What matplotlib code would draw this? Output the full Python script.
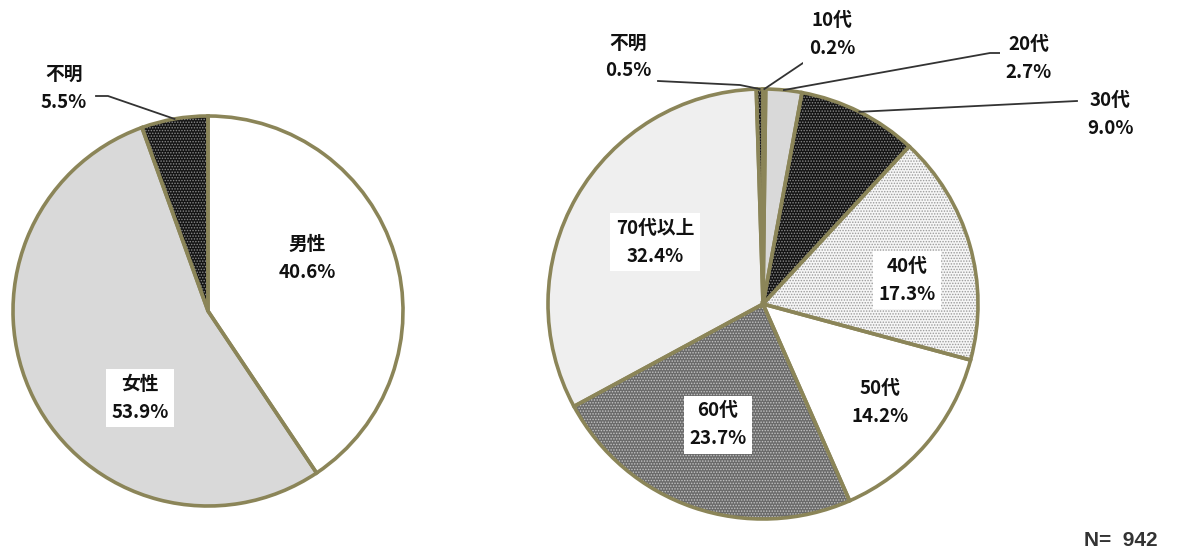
import matplotlib
matplotlib.use("Agg")
import matplotlib.pyplot as plt
import numpy as np

plt.rcParams["font.family"] = ["Noto Sans CJK JP", "DejaVu Sans"]
plt.rcParams["hatch.linewidth"] = 0.7

W, H = 1192, 556

# 性別
sex_labels = ["男性", "女性", "不明"]
sex_values = [40.6, 53.9, 5.5]

# 年代別
age_labels = ["10代", "20代", "30代", "40代", "50代", "60代", "70代以上", "不明"]
age_values = [0.2, 2.7, 9.0, 17.3, 14.2, 23.7, 32.4, 0.5]
n_total = 942

EDGE = "#8b8558"
# (face, hatch, hatch colour)
STYLE = {
    "white": ("#ffffff", None, None),
    "light": ("#d9d9d9", None, None),
    "pale": ("#efefef", None, None),
    "dark": ("#141414", "......", "#8a8a8a"),
    "dots": ("#f6f6f6", "......", "#9a9a9a"),
    "mid": ("#6a6a6a", "......", "#c4c4c4"),
    "grey": ("#5a5a5a", None, None),
}
sex_style = ["white", "light", "dark"]
age_style = ["grey", "light", "dark", "dots", "white", "mid", "pale", "dark"]


def px(x, y):
    return x, H - y


def draw_pie(ax, values, styles, center, radius):
    fill, _ = ax.pie(values, startangle=90, counterclock=False, center=center,
                     radius=radius, wedgeprops=dict(linewidth=0))
    for w, s in zip(fill, styles):
        face, hatch, hcol = STYLE[s]
        w.set_facecolor(face)
        if hatch:
            w.set_hatch(hatch)
            w.set_edgecolor(hcol)
    ax.pie(values, startangle=90, counterclock=False, center=center, radius=radius,
           wedgeprops=dict(facecolor="none", edgecolor=EDGE, linewidth=2.6))


def edge_point(values, i, center, radius):
    frac = (sum(values[:i]) + values[i] / 2) / sum(values)
    ang = np.deg2rad(90 - 360 * frac)
    return center[0] + radius * np.cos(ang), center[1] + radius * np.sin(ang)


def label(ax, xy, name, val):
    ax.text(*px(*xy), f"{name}\n{val:.1f}%", ha="center", va="center",
            fontsize=13.5, fontweight="bold", linespacing=1.6, color="#111111",
            bbox=dict(facecolor="white", edgecolor="none", pad=4), zorder=5)


def leader(ax, pts, end):
    xs = [px(*p)[0] for p in pts] + [end[0]]
    ys = [px(*p)[1] for p in pts] + [end[1]]
    ax.plot(xs, ys, color="#333333", linewidth=1.3, zorder=4)


fig = plt.figure(figsize=(W / 100, H / 100), dpi=100)
ax = fig.add_axes([0, 0, 1, 1])

c_sex, r_sex = px(208, 311), 195
c_age, r_age = px(763, 304), 215
draw_pie(ax, sex_values, sex_style, c_sex, r_sex)
draw_pie(ax, age_values, age_style, c_age, r_age)

# 性別ラベル
label(ax, (307, 258), sex_labels[0], sex_values[0])
label(ax, (140, 398), sex_labels[1], sex_values[1])
label(ax, (64, 88), sex_labels[2], sex_values[2])
leader(ax, [(96, 96), (108, 96)], edge_point(sex_values, 2, c_sex, r_sex))

# 年代ラベル
label(ax, (832, 35), age_labels[0], age_values[0])
leader(ax, [(815, 63), (803, 63)], edge_point(age_values, 0, c_age, r_age))
label(ax, (1029, 58), age_labels[1], age_values[1])
leader(ax, [(1000, 53), (990, 53)], edge_point(age_values, 1, c_age, r_age))
label(ax, (1110, 115), age_labels[2], age_values[2])
leader(ax, [(1077, 101)], edge_point(age_values, 2, c_age, r_age))
label(ax, (907, 280), age_labels[3], age_values[3])
label(ax, (880, 403), age_labels[4], age_values[4])
label(ax, (718, 425), age_labels[5], age_values[5])
label(ax, (655, 242), age_labels[6], age_values[6])
label(ax, (628, 57), age_labels[7], age_values[7])
leader(ax, [(658, 81), (740, 85)], edge_point(age_values, 7, c_age, r_age))

ax.text(*px(1121, 540), f"N=  {n_total}", ha="center", va="center",
        fontsize=15, fontweight="bold", color="#333333", family="Liberation Sans")

ax.set_xlim(0, W)
ax.set_ylim(0, H)
ax.set_aspect("equal")
ax.axis("off")

fig.savefig("out.png", dpi=100, facecolor="white")
